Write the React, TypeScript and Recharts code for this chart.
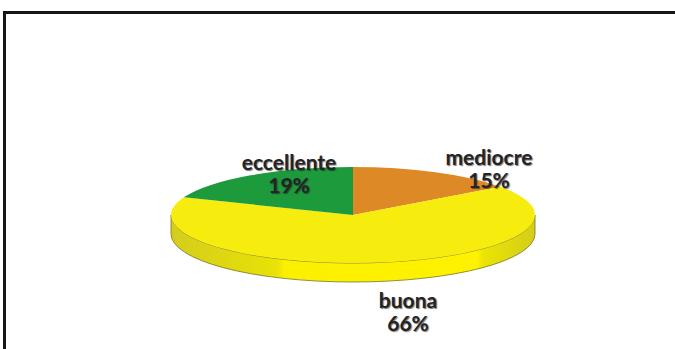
import React from 'react'
import { PieChart, Pie, Cell, Sector } from 'recharts'

const categories = ['mediocre', 'buona', 'eccellente']
const shares = [15, 66, 19]
const sliceColors = ['#dd8a26', '#f6ec0e', '#1d9a3c']

const data = categories.map((name, i) => ({ name, value: shares[i] }))

const CX = 353
const CY = 215
const RADIUS = 182
const TILT = 48 / 182 // vertical squash of the disc
const DEPTH = 19 // thickness of the disc

// label offsets from the disc centre, name line + value line
const labelOffsets = [
  { dx: 136, dy: -50 },
  { dx: 55, dy: 93 },
  { dx: -64, dy: -45 },
]

const rad = (deg: number) => (deg * Math.PI) / 180

// Outer wall of a slice, only the part facing the viewer (lower half of the ellipse)
const wallPath = (cx: number, cy: number, r: number, startAngle: number, endAngle: number) => {
  const from = Math.min(startAngle, 0)
  const to = Math.max(endAngle, -180)
  if (from <= to) return null
  const ry = r * TILT
  const x1 = cx + r * Math.cos(rad(from))
  const y1 = cy - ry * Math.sin(rad(from))
  const x2 = cx + r * Math.cos(rad(to))
  const y2 = cy - ry * Math.sin(rad(to))
  return `M${x1},${y1} A${r},${ry} 0 0 1 ${x2},${y2} L${x2},${y2 + DEPTH} A${r},${ry} 0 0 0 ${x1},${y1 + DEPTH} Z`
}

const DiscSlice = (props: any) => {
  const { cx, cy, outerRadius, startAngle, endAngle } = props
  const wall = wallPath(cx, cy, outerRadius, startAngle, endAngle)
  return (
    <g>
      {wall && <path d={wall} fill="url(#wallFill)" stroke="#77732a" strokeWidth={0.8} />}
      <g transform={`translate(${cx} ${cy}) scale(1 ${TILT}) translate(${-cx} ${-cy})`}>
        <Sector {...props} stroke="none" />
      </g>
    </g>
  )
}

const SliceLabel = ({ index }: any) => {
  const { dx, dy } = labelOffsets[index]
  const textStyle = { textShadow: '1px 1px 1px rgba(30,30,30,0.6)' }
  return (
    <text
      x={CX + dx}
      y={CY + dy}
      textAnchor="middle"
      fontFamily="Lato, sans-serif"
      fontWeight={700}
      fontSize={21}
      fill="#222428"
      style={textStyle}
    >
      <tspan x={CX + dx}>{categories[index]}</tspan>
      <tspan x={CX + dx} dy={22.5}>{shares[index]}%</tspan>
    </text>
  )
}

export default function App() {
  return (
    <div style={{ position: 'absolute', left: 0, top: 0, width: 675, height: 349, background: '#fff', overflow: 'hidden' }}>
      {/* frame runs off the right and bottom edges */}
      <div
        style={{
          position: 'absolute',
          left: 3,
          top: 11,
          width: 680,
          height: 345,
          borderTop: '3px solid #15161a',
          borderLeft: '3px solid #15161a',
        }}
      />
      <PieChart
        width={675}
        height={349}
        margin={{ top: 0, right: 0, bottom: 0, left: 0 }}
        style={{ position: 'absolute', left: 0, top: 0 }}
      >
        <defs>
          <linearGradient id="wallFill" x1="0" y1="0" x2="1" y2="0">
            <stop offset="0%" stopColor="#d4cd1c" />
            <stop offset="29%" stopColor="#e8e206" />
            <stop offset="31%" stopColor="#fbf000" />
            <stop offset="84%" stopColor="#fff200" />
            <stop offset="86%" stopColor="#ebe404" />
            <stop offset="100%" stopColor="#d4cd18" />
          </linearGradient>
        </defs>
        <Pie
          data={data}
          dataKey="value"
          cx={CX}
          cy={CY}
          innerRadius={0}
          outerRadius={RADIUS}
          startAngle={90}
          endAngle={-270}
          paddingAngle={0}
          labelLine={false}
          label={SliceLabel}
          shape={DiscSlice}
          isAnimationActive={false}
        >
          {data.map((entry, i) => (
            <Cell key={entry.name} fill={sliceColors[i]} />
          ))}
        </Pie>
      </PieChart>
    </div>
  )
}
